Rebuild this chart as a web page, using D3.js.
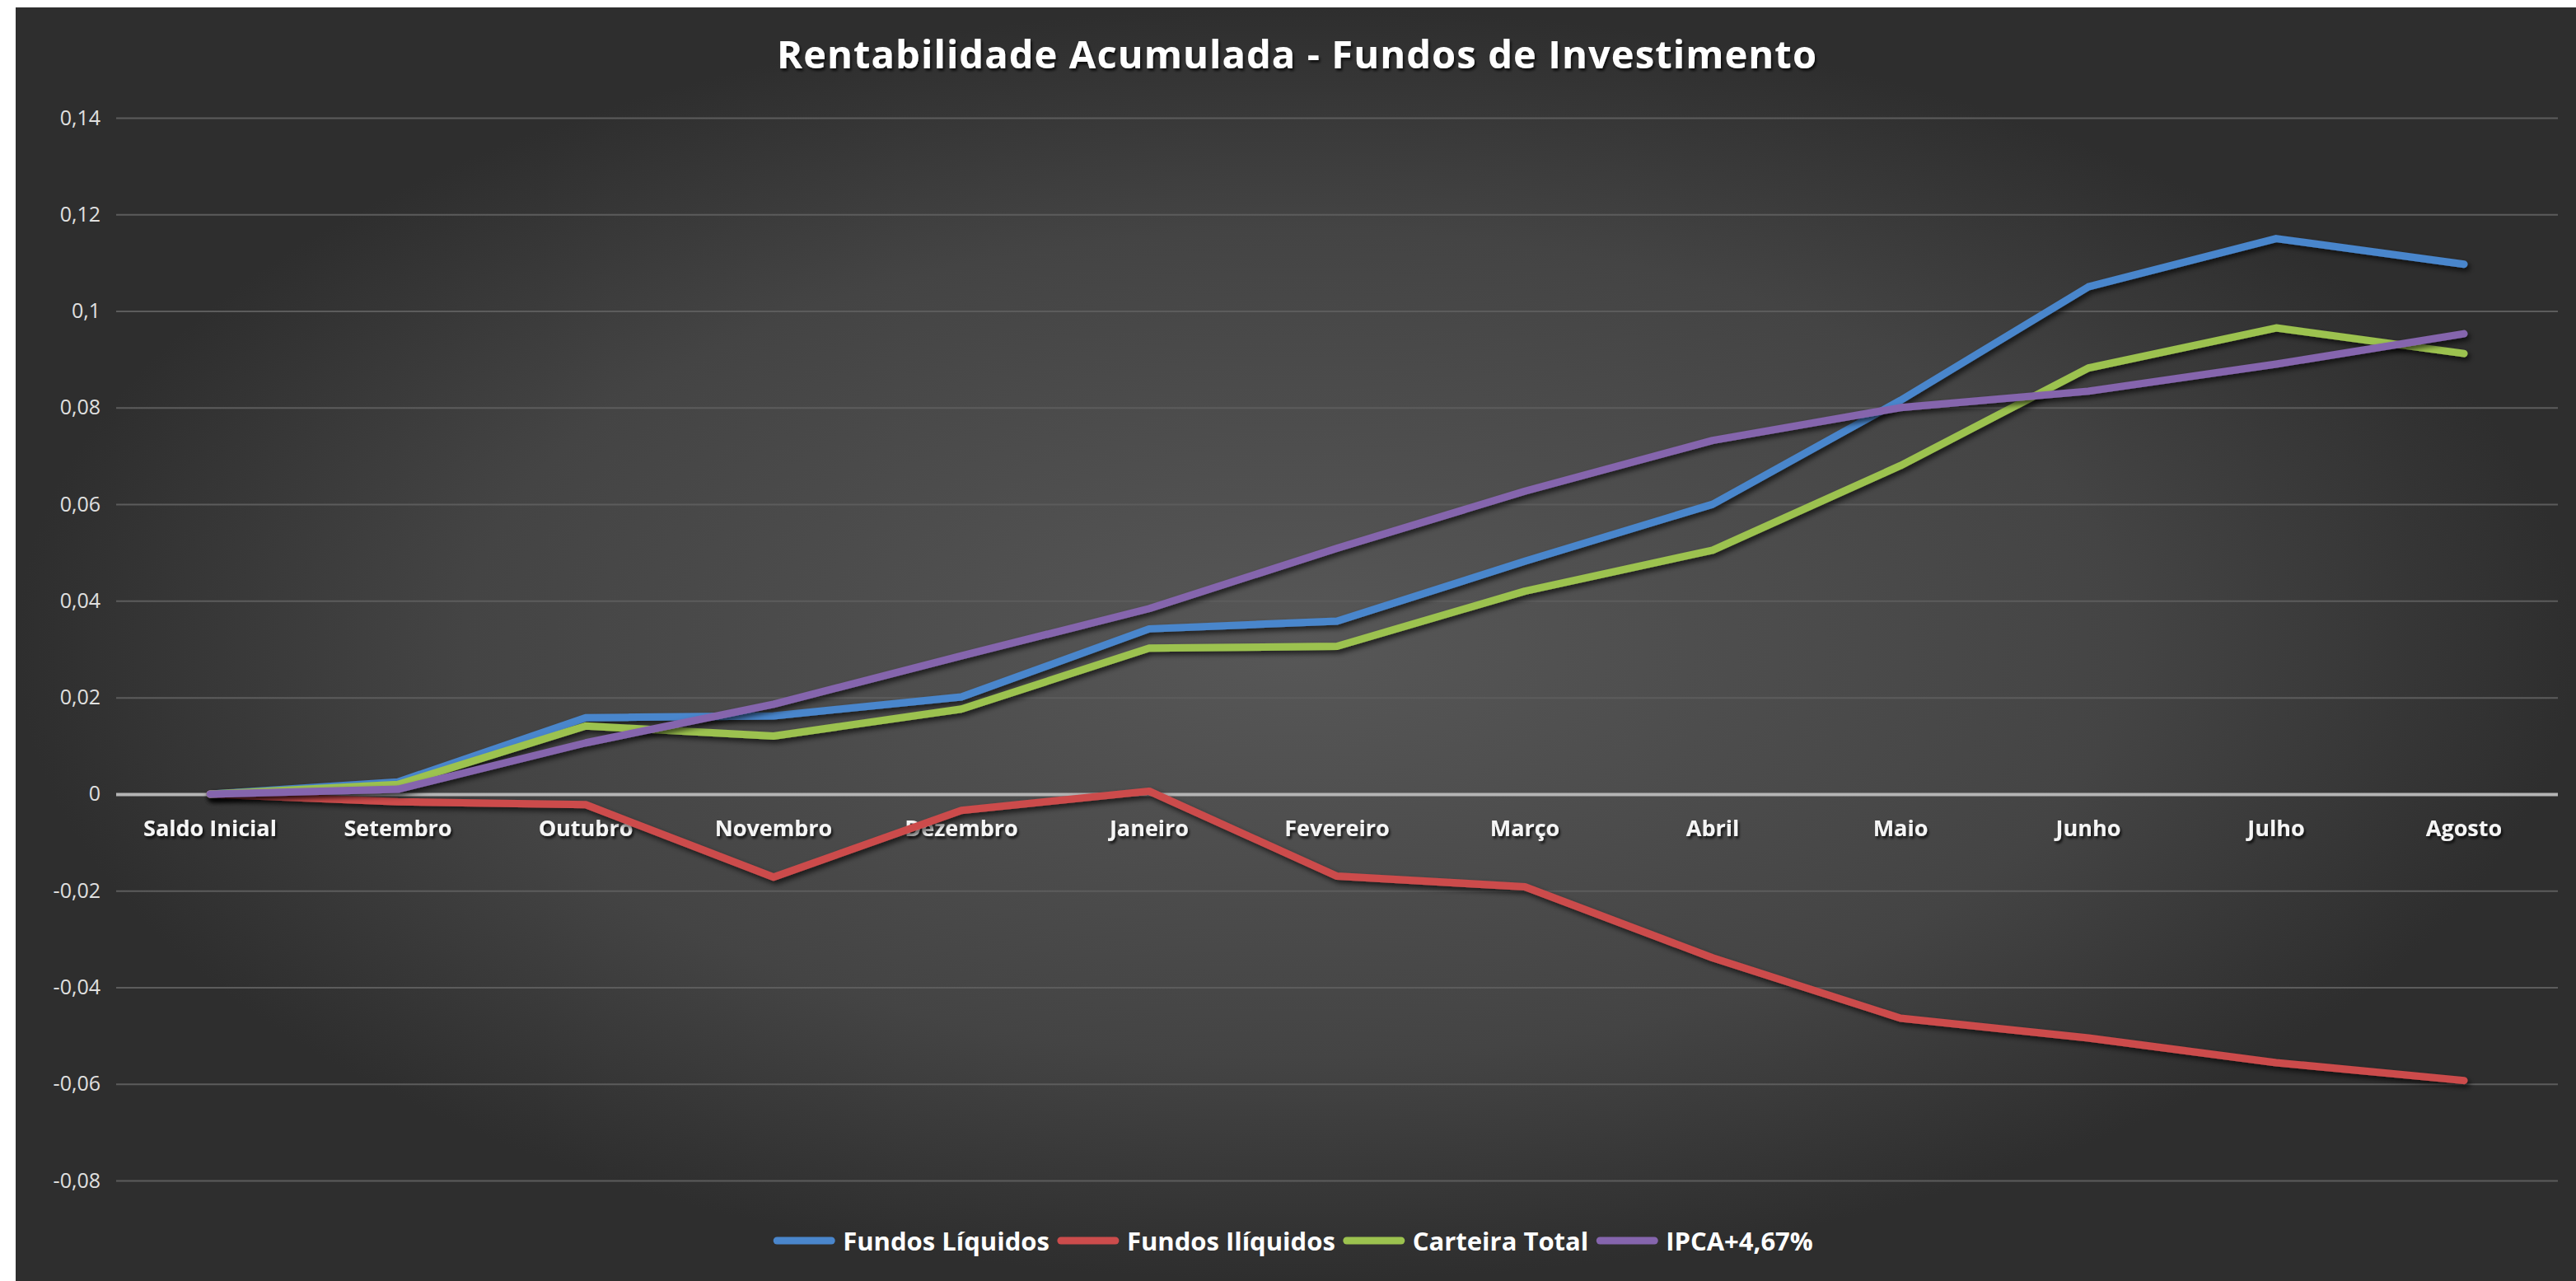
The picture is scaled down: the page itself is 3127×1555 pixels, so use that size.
<!DOCTYPE html>
<html>
<head>
<meta charset="utf-8">
<script src="https://cdn.jsdelivr.net/npm/d3@7"></script>
<style>
  html, body { margin: 0; padding: 0; background: #fff; }
  svg { display: block; }
</style>
</head>
<body>
<svg id="chart" width="3127" height="1555"></svg>
<script>
const categories = ["Saldo Inicial", "Setembro", "Outubro", "Novembro", "Dezembro", "Janeiro",
    "Fevereiro", "Março", "Abril", "Maio", "Junho", "Julho", "Agosto"];

const fundosLiquidos = [0, 0.0025, 0.0158, 0.0162, 0.0201, 0.0342, 0.0358, 0.0482, 0.0600, 0.0815, 0.1050, 0.1150, 0.1097];
const fundosIliquidos = [0, -0.0016, -0.0022, -0.0172, -0.0034, 0.0006, -0.0170, -0.0192, -0.0339, -0.0464, -0.0505, -0.0556, -0.0593];
const carteiraTotal = [0, 0.0020, 0.0141, 0.0120, 0.0176, 0.0302, 0.0306, 0.0420, 0.0505, 0.0680, 0.0882, 0.0965, 0.0912];
const ipca = [0, 0.0010, 0.0106, 0.0186, 0.0286, 0.0384, 0.0509, 0.0627, 0.0732, 0.0800, 0.0834, 0.0890, 0.0953];

const seriesNames = ["Fundos Líquidos", "Fundos Ilíquidos", "Carteira Total", "IPCA+4,67%"];
const seriesColors = ["#4a86cc", "#cc4c4c", "#9cc24f", "#8565ad"];

const yTicks = [-0.08, -0.06, -0.04, -0.02, 0, 0.02, 0.04, 0.06, 0.08, 0.1, 0.12, 0.14];
const yTickLabels = ["-0,08", "-0,06", "-0,04", "-0,02", "0", "0,02", "0,04", "0,06", "0,08", "0,1", "0,12", "0,14"];

const title = "Rentabilidade Acumulada - Fundos de Investimento";

const series = [fundosLiquidos, fundosIliquidos, carteiraTotal, ipca].map((values, i) => ({
    name: seriesNames[i],
    color: seriesColors[i],
    values: values
}));

const svg = d3.select("#chart");
const W = +svg.attr("width");
const H = +svg.attr("height");

// plot area (pixels)
const pLeft = 141, pRight = 3105, pTop = 143, pBottom = 1433;

const defs = svg.append("defs");
const grad = defs.append("radialGradient")
    .attr("id", "bg")
    .attr("cx", "0.5").attr("cy", "0.5").attr("r", "0.5");
grad.append("stop").attr("offset", "0").attr("stop-color", "#575757");
grad.append("stop").attr("offset", "0.65").attr("stop-color", "#444444");
grad.append("stop").attr("offset", "1").attr("stop-color", "#2e2e2e");

const shadow = defs.append("filter").attr("id", "shadow")
    .attr("x", "-5%").attr("y", "-5%").attr("width", "110%").attr("height", "120%");
shadow.append("feDropShadow")
    .attr("dx", 3).attr("dy", 4).attr("stdDeviation", 3)
    .attr("flood-color", "#000").attr("flood-opacity", 0.65);

const textShadow = defs.append("filter").attr("id", "tshadow");
textShadow.append("feDropShadow")
    .attr("dx", 2).attr("dy", 3).attr("stdDeviation", 1.5)
    .attr("flood-color", "#000").attr("flood-opacity", 0.7);

// background panel
svg.append("rect")
    .attr("x", 19).attr("y", 9)
    .attr("width", W - 19).attr("height", H - 9)
    .attr("fill", "url(#bg)");

const xScale = d3.scaleBand()
    .domain(categories)
    .range([pLeft, pRight]);

const yScale = d3.scaleLinear()
    .domain([d3.min(yTicks), d3.max(yTicks)])
    .range([pBottom, pTop]);

// gridlines + y labels
const yAxis = d3.axisLeft(yScale)
    .tickValues(yTicks)
    .tickSize(-(pRight - pLeft))
    .tickPadding(19)
    .tickFormat((d, i) => yTickLabels[i]);

const gy = svg.append("g")
    .attr("transform", "translate(" + pLeft + ",0)")
    .call(yAxis);
gy.select(".domain").remove();
gy.selectAll(".tick line")
    .attr("stroke", (d) => d === 0 ? "#b5b5b5" : "#5c5c5c")
    .attr("stroke-width", (d) => d === 0 ? 4 : 2);
gy.selectAll(".tick text")
    .attr("fill", "#e0e0e0")
    .style("font-family", "'Open Sans', sans-serif")
    .style("font-size", "25px");

// x labels under the zero line
const xAxis = d3.axisBottom(xScale).tickSize(0);
const gx = svg.append("g")
    .attr("transform", "translate(0," + yScale(0) + ")")
    .call(xAxis);
gx.select(".domain").remove();
gx.selectAll(".tick text")
    .attr("y", 51).attr("dy", 0)
    .attr("fill", "#f5f5f5")
    .attr("filter", "url(#tshadow)")
    .style("font-family", "'Open Sans', sans-serif")
    .style("font-weight", "bold")
    .style("font-size", "27px");

// lines
const line = d3.line()
    .x((d, i) => xScale(categories[i]) + xScale.bandwidth() / 2)
    .y((d) => yScale(d));

svg.append("g")
    .selectAll("path")
    .data(series)
    .enter()
    .append("path")
    .attr("d", (d) => line(d.values))
    .attr("fill", "none")
    .attr("stroke", (d) => d.color)
    .attr("stroke-width", 9)
    .attr("stroke-linejoin", "round")
    .attr("stroke-linecap", "round")
    .attr("filter", "url(#shadow)");

// title
svg.append("text")
    .attr("x", 1574).attr("y", 83)
    .attr("text-anchor", "middle")
    .attr("fill", "#ffffff")
    .attr("filter", "url(#tshadow)")
    .attr("textLength", 1262)
    .attr("lengthAdjust", "spacing")
    .style("font-family", "'Open Sans', sans-serif")
    .style("font-weight", "bold")
    .style("font-size", "47px")
    .text(title);

// legend
const legend = svg.append("g");
const lineLen = 74, gap = 10;
let cursor = 0;
series.forEach((s) => {
    const item = legend.append("g").attr("transform", "translate(" + cursor + ",0)");
    item.append("line")
        .attr("x1", 4).attr("x2", lineLen - 4)
        .attr("y1", 0).attr("y2", 0)
        .attr("stroke", s.color)
        .attr("stroke-width", 9)
        .attr("stroke-linecap", "round");
    const t = item.append("text")
        .attr("x", lineLen + gap).attr("y", 12)
        .attr("fill", "#ffffff")
        .style("font-family", "'Open Sans', sans-serif")
        .style("font-weight", "bold")
        .style("font-size", "31px")
        .text(s.name);
    cursor += lineLen + gap + t.node().getComputedTextLength() + gap;
});
cursor -= gap;
legend.attr("transform", "translate(" + (1570 - cursor / 2) + ",1506)");
</script>
</body>
</html>
